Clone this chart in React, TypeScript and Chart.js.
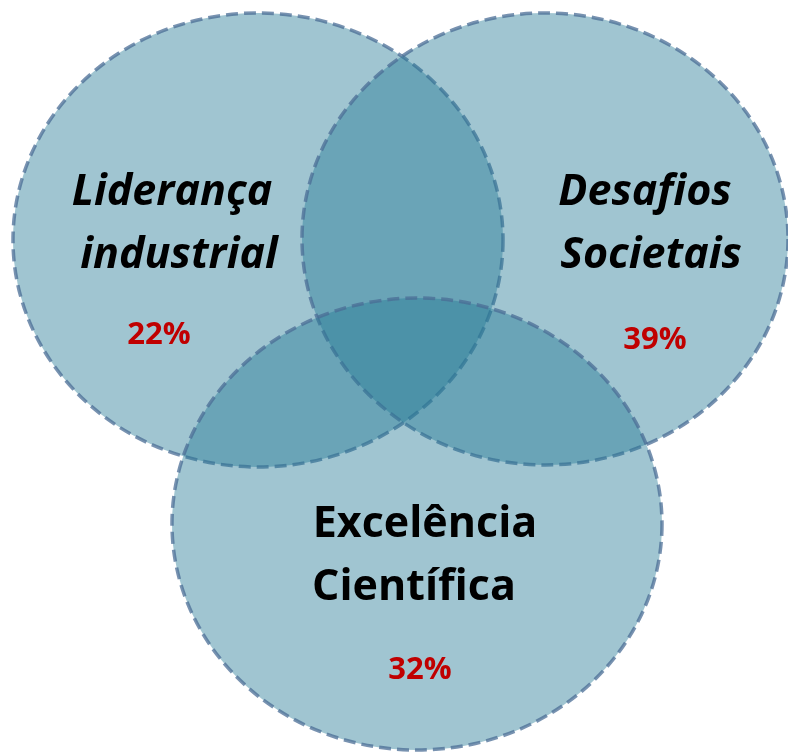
import React, { useEffect, useRef } from "react";
import { Chart, registerables } from "chart.js";

Chart.register(...registerables);

// Sets (ellipses) in plot units (x: 0..788, y: 0..753 top-down)
const setNames = ["Liderança industrial", "Desafios Societais", "Excelência Científica"];
const centerX = [258, 545, 417];
const centerY = [240, 239, 524];
const radiusX = [245, 243, 245];
const radiusY = [227, 226, 226];

// Labels
const labelLines = [["Liderança", "industrial"], ["Desafios", "Societais"], ["Excelência", "Científica"]];
const labelLineX = [[172, 179], [645, 651], [425, 414]];
const labelY = [193, 193, 525];
const labelItalic = [true, true, false];
const percents = ["22%", "39%", "32%"];
const percentX = [159, 655, 420];
const percentY = [335, 340, 670];

const vennPlugin = {
  id: "venn",
  beforeDatasetsDraw(chart: any) {
    const { ctx, scales } = chart;
    const xs = scales.x;
    const ys = scales.y;
    ctx.save();
    for (let i = 0; i < centerX.length; i++) {
      const cx = xs.getPixelForValue(centerX[i]);
      const cy = ys.getPixelForValue(centerY[i]);
      const rx = Math.abs(xs.getPixelForValue(centerX[i] + radiusX[i]) - cx);
      const ry = Math.abs(ys.getPixelForValue(centerY[i] + radiusY[i]) - cy);
      ctx.beginPath();
      ctx.ellipse(cx, cy, rx, ry, 0, 0, Math.PI * 2);
      ctx.fillStyle = "rgba(39,123,150,0.44)";
      ctx.fill();
      ctx.setLineDash([12, 6]);
      ctx.lineWidth = 3.5;
      ctx.strokeStyle = "rgba(75,110,150,0.75)";
      ctx.stroke();
    }
    ctx.setLineDash([]);
    ctx.textAlign = "center";
    ctx.textBaseline = "middle";
    for (let i = 0; i < labelLines.length; i++) {
      ctx.fillStyle = "#000";
      ctx.font = `${labelItalic[i] ? "italic " : ""}bold 43px "Open Sans", sans-serif`;
      labelLines[i].forEach((line, j) => {
        ctx.fillText(line, xs.getPixelForValue(labelLineX[i][j]), ys.getPixelForValue(labelY[i] + j * 63));
      });
      ctx.fillStyle = "#C00000";
      ctx.font = `bold 31px "Open Sans", sans-serif`;
      ctx.fillText(percents[i], xs.getPixelForValue(percentX[i]), ys.getPixelForValue(percentY[i]));
    }
    ctx.restore();
  },
};

export default function App() {
  const ref = useRef<HTMLCanvasElement>(null);
  useEffect(() => {
    document.body.style.margin = "0";
    const chart = new Chart(ref.current!, {
      type: "scatter",
      data: {
        datasets: [
          {
            label: "Sets",
            data: centerX.map((x, i) => ({ x, y: centerY[i] })),
            pointRadius: 0,
          },
        ],
      },
      options: {
        animation: false,
        responsive: false,
        maintainAspectRatio: false,
        layout: { padding: 0 },
        plugins: { legend: { display: false }, tooltip: { enabled: false } },
        scales: {
          x: { type: "linear", min: 0, max: 788, display: false },
          y: { type: "linear", min: 0, max: 753, reverse: true, display: false },
        },
      },
      plugins: [vennPlugin],
    });
    return () => chart.destroy();
  }, []);
  return (
    <div style={{ width: 788, height: 753 }}>
      <canvas ref={ref} width={788} height={753} style={{ display: "block" }} />
    </div>
  );
}
